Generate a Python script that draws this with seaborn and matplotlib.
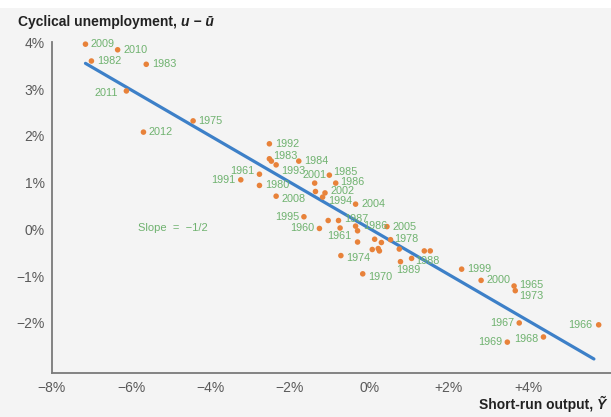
import pandas as pd
import seaborn as sns
import matplotlib.pyplot as plt
from matplotlib.patches import Rectangle

# Okun's law scatter: short-run output vs cyclical unemployment (percent)
years = ["2009", "2010", "1982", "1983", "2011", "1975", "2012", "1992", "1983", "",
         "1993", "1984", "1961", "1991", "1980", "2008", "2001", "1985", "1986", "",
         "2002", "1994", "2004", "1995", "", "1987", "1960", "1961", "", "1986",
         "2005", "", "", "", "1978", "", "", "", "1974", "",
         "", "1989", "1970", "", "1988", "1999", "2000", "1965", "1973", "1967",
         "1966", "1968", "1969"]
output_gap = [-7.15, -6.34, -7.00, -5.62, -6.12, -4.44, -5.69, -2.52, -2.52, -2.47,
              -2.35, -1.78, -2.77, -3.24, -2.77, -2.35, -1.38, -1.01, -0.85, -1.36,
              -1.12, -1.18, -0.35, -1.65, -1.04, -0.78, -1.26, -0.74, -0.35, -0.30,
              0.44, -0.30, 0.13, 0.30, 0.53, 0.07, 0.22, 0.25, -0.72, 0.75,
              1.06, 0.78, -0.17, 1.38, 1.53, 2.32, 2.81, 3.64, 3.67, 3.77,
              5.77, 4.38, 3.47]
cyc_unemp = [3.96, 3.84, 3.60, 3.53, 2.96, 2.32, 2.08, 1.83, 1.51, 1.46,
             1.38, 1.46, 1.18, 1.06, 0.94, 0.71, 0.99, 1.16, 0.99, 0.81,
             0.78, 0.69, 0.54, 0.27, 0.19, 0.19, 0.02, 0.03, 0.07, -0.03,
             0.06, -0.27, -0.21, -0.28, -0.22, -0.43, -0.41, -0.46, -0.56, -0.42,
             -0.62, -0.69, -0.95, -0.46, -0.46, -0.85, -1.09, -1.21, -1.31, -2.00,
             -2.04, -2.30, -2.41]

# fitted line endpoints
line_x = [-7.15, 5.65]
line_y = [3.55, -2.77]

x_ticks = [-8, -6, -4, -2, 0, 2, 4]
x_labels = ["\u22128%", "\u22126%", "\u22124%", "\u22122%", "0%", "+2%", "+4%"]
y_ticks = [-2, -1, 0, 1, 2, 3, 4]
y_labels = ["\u22122%", "\u22121%", "0%", "1%", "2%", "3%", "4%"]

df = pd.DataFrame({"year": years, "gap": output_gap, "u": cyc_unemp})
line_df = pd.DataFrame({"gap": line_x, "u": line_y})

BG = "#f4f4f4"
ORANGE = "#e8823a"
BLUE = "#3d80c8"
GREEN = "#6fb26f"
AXIS = "#7a7a7a"
TICKTXT = "#5a5a5a"

sns.set_style("white")
plt.rcParams["font.family"] = ["Liberation Sans Narrow", "Liberation Sans", "DejaVu Sans"]

fig = plt.figure(figsize=(6.11, 4.17), dpi=100, facecolor="white")
fig.patches.append(Rectangle((0, 0), 1, 409 / 417, transform=fig.transFigure,
                             facecolor=BG, edgecolor="none", zorder=-10))
ax = fig.add_axes([51.7 / 611, 44 / 417, (611 - 51.7) / 611, (374.7 - 44) / 417])
ax.set_facecolor("none")

sns.lineplot(data=line_df, x="gap", y="u", ax=ax, color=BLUE, linewidth=2.3, zorder=2)
sns.scatterplot(data=df, x="gap", y="u", ax=ax, color=ORANGE, s=16,
                edgecolor="none", zorder=3, clip_on=False)

# label placement (pixel offsets); default is to the right of the dot
label_pos = {
    4: (-8, -1.7, "right"), 8: (4, 3, "left"), 10: (5, -6, "left"),
    12: (-5, 3.6, "right"), 13: (-5, 0, "right"), 15: (5.6, -2.7, "left"),
    16: (0, 8, "center"), 17: (3.4, 3.3, "left"), 18: (4.3, 1, "left"),
    20: (6, 1.5, "left"), 21: (6, -4, "left"), 23: (-5, 0, "right"),
    25: (6, 2, "left"), 26: (-5, 0, "right"), 27: (-1, -8.4, "center"),
    29: (6, 4.7, "left"), 34: (4, 1, "left"), 38: (5, -2.6, "left"),
    41: (-4, -8.6, "left"), 42: (5.3, -2.7, "left"), 44: (-3, -9.7, "center"),
    47: (5, 0.6, "left"), 48: (4, -5.7, "left"), 49: (-5, 0, "right"),
    50: (-6, 0, "right"), 51: (-4.6, -1.7, "right"), 52: (-5, -0.3, "right"),
}
for i, row in df.iterrows():
    if not row["year"]:
        continue
    dx, dy, ha = label_pos.get(i, (5.5, 0, "left"))
    ax.annotate(row["year"], (row["gap"], row["u"]), xytext=(dx, dy),
                textcoords="offset pixels", ha=ha, va="center",
                fontsize=7.8, color=GREEN, zorder=4, annotation_clip=False)

ax.text(-5.84, 0.03, "Slope  =  \u22121/2", fontsize=8, color=GREEN,
        ha="left", va="center")

ax.set_xlim(-8, 6.08)
ax.set_ylim(-3.07, 4.0)
ax.set_xticks(x_ticks)
ax.set_xticklabels(x_labels)
ax.set_yticks(y_ticks)
ax.set_yticklabels(y_labels)
ax.tick_params(direction="in", length=6.7, width=1.1, color=AXIS,
               labelsize=10, labelcolor=TICKTXT)
ax.tick_params(axis="x", pad=6)
ax.tick_params(axis="y", pad=5)
ax.set_xlabel("")
ax.set_ylabel("")
for side in ["top", "right"]:
    ax.spines[side].set_visible(False)
for side in ["left", "bottom"]:
    ax.spines[side].set_color(AXIS)
    ax.spines[side].set_linewidth(1.3)

# axis titles
bold = ["Liberation Sans", "DejaVu Sans"]
t1 = fig.text(18 / 611, 1 - 22 / 417, "Cyclical unemployment, ", fontsize=10,
              fontweight="bold", family=bold, color="#222222", va="center", ha="left")
fig.canvas.draw()
bb = t1.get_window_extent()
fig.text(bb.x1 / fig.bbox.width, 1 - 22 / 417, "u \u2212 \u016b", fontsize=10,
         fontweight="bold", style="italic", family=bold, color="#222222",
         va="center", ha="left")

t2 = fig.text(606 / 611, 1 - 405 / 417, "\u1ef8", fontsize=10, fontweight="bold",
              style="italic", family=bold, color="#222222", va="center", ha="right")
fig.canvas.draw()
bb2 = t2.get_window_extent()
fig.text(bb2.x0 / fig.bbox.width, 1 - 405 / 417, "Short-run output, ", fontsize=10,
         fontweight="bold", family=bold, color="#222222", va="center", ha="right")

fig.savefig("out.png", dpi=100, facecolor="white")
